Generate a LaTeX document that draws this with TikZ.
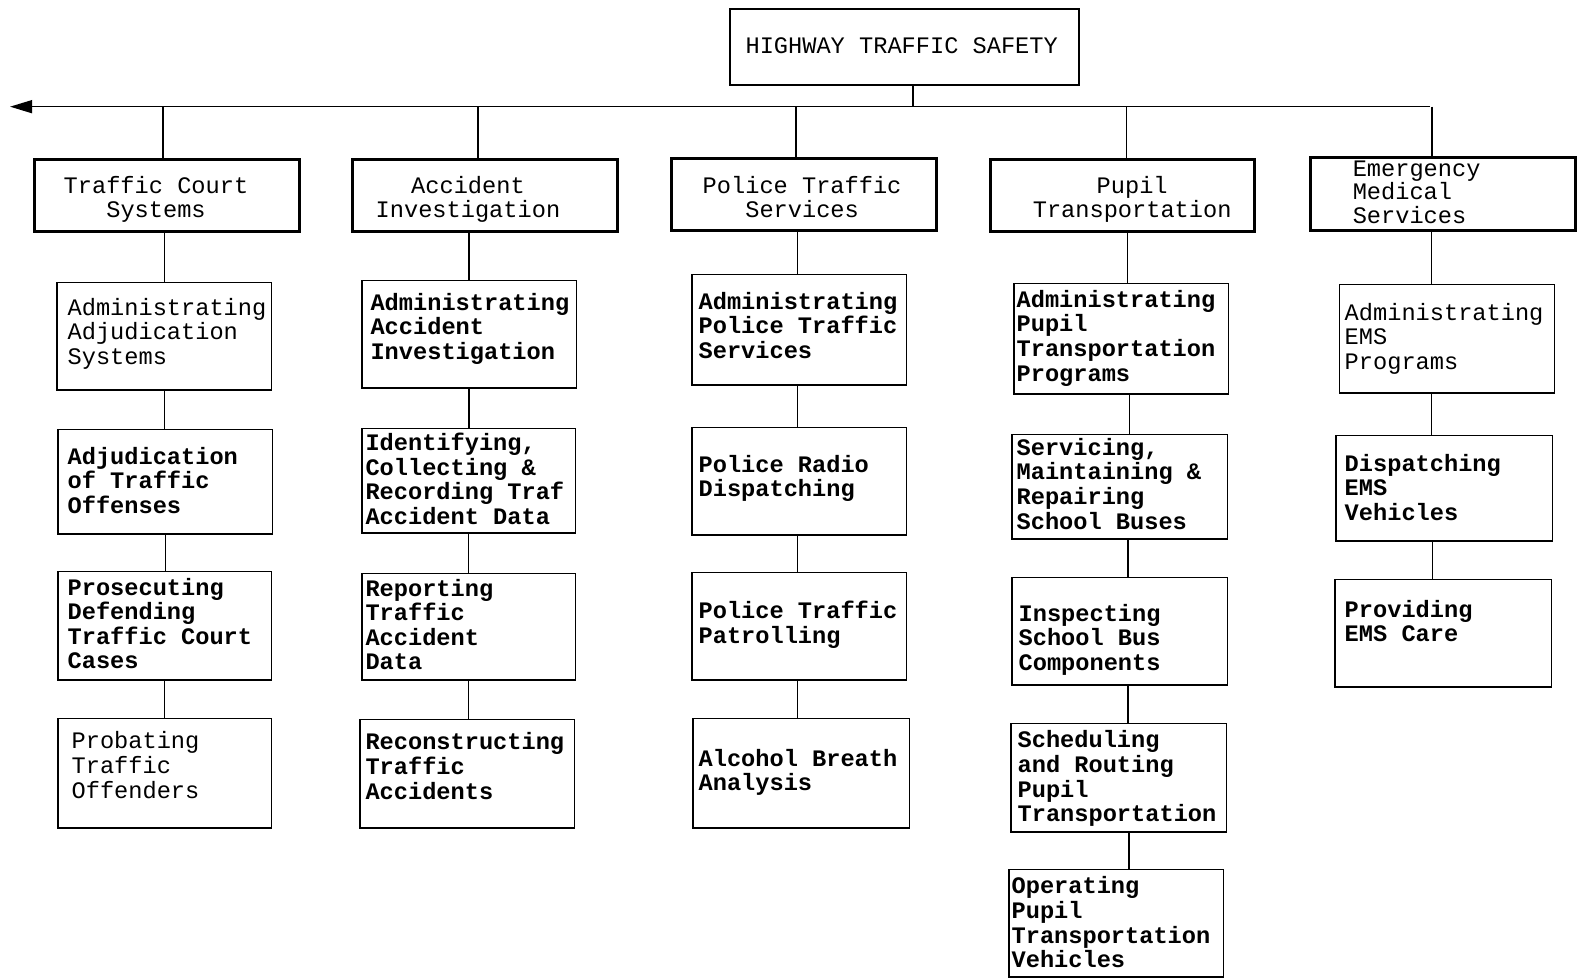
\documentclass[tikz,border=0pt]{standalone}
\usepackage{fontspec}
\setmonofont{Liberation Mono}
\usetikzlibrary{arrows.meta}
\tikzset{
  cellbox/.style={draw, line width=1.4pt, inner sep=0pt, anchor=north west},
  headbox/.style={draw, line width=2.8pt, inner sep=0pt, anchor=north west},
  boldtext/.style={font=\ttfamily\bfseries\fontsize{23.5}{24.5}\selectfont, align=left, inner sep=0pt, anchor=north west, execute at begin node=\strut},
  lighttext/.style={font=\ttfamily\fontsize{23.5}{24.5}\selectfont, align=left, inner sep=0pt, anchor=north west, execute at begin node=\strut},
  headtext/.style={font=\ttfamily\fontsize{23.5}{23.5}\selectfont, align=center, inner sep=0pt, anchor=north, execute at begin node=\strut},
  headltext/.style={font=\ttfamily\fontsize{23.5}{23}\selectfont, align=left, inner sep=0pt, anchor=north west, execute at begin node=\strut},
  link/.style={line width=1.4pt},
}
\newcommand\cell[9]{%
  \node[cellbox, minimum width={#4-#2}, minimum height={#5-#3}] (#1) at (#2,#3) {};
  \node[#8] (#1t) at (#6,#7-17) {#9};
}
\newcommand\head[9]{%
  \node[headbox, minimum width={#4-#2}, minimum height={#5-#3}] (#1) at (#2,#3) {};
  \node[#8] (#1t) at (#6,#7-17) {#9};
}
\begin{document}
\begin{tikzpicture}[x=1pt, y=-1pt]
\useasboundingbox (0,0) rectangle (1568,971);

% top
\node[draw, line width=2pt, inner sep=0pt, anchor=north west, minimum width=347, minimum height=75] (top) at (724,8) {};
\node[headtext] (topt) at (896,54-17) {HIGHWAY TRAFFIC SAFETY};

\coordinate (hub) at (907,106);
\coordinate (lend) at (10,106);
\coordinate (rend) at (1421,106);
\draw[link] (top.south -| hub) -- (hub);
\draw[link, -{Triangle[length=22pt, width=13pt]}] (rend) -- (lend);

% headers
\head{h1}{33}{157}{296}{229}{155}{192}{headtext}{Traffic Court\\Systems}
\head{h2}{349}{157}{612}{229}{465}{192}{headtext}{Accident\\Investigation}
\head{h3}{666}{156}{929}{228}{797}{192}{headtext}{Police Traffic\\Services}
\head{h4}{983}{157}{1245}{229}{1125}{192}{headtext}{Pupil\\Transportation}
\head{h5}{1301}{155}{1564}{228}{1344}{177}{headltext}{Emergency\\Medical\\Services}

% drops from main line
\draw[link] ([xshift=-4pt]h1.north |- hub) -- ([xshift=-4pt]h1.north);
\draw[link] ([xshift=-7pt]h2.north |- hub) -- ([xshift=-7pt]h2.north);
\draw[link] ([xshift=-8pt]h3.north |- hub) -- ([xshift=-8pt]h3.north);
\draw[link] ([xshift=4pt]h4.north |- hub) -- ([xshift=4pt]h4.north);
\draw[link] ([xshift=-11pt]h5.north |- hub) -- ([xshift=-11pt]h5.north);

% column 1
\cell{a1}{56}{280}{269}{387}{67}{313}{lighttext}{Administrating\\Adjudication\\Systems}
\cell{b1}{57}{426}{270}{530}{67}{461}{boldtext}{Adjudication\\of Traffic\\Offenses}
\cell{c1}{57}{567}{269}{675}{67}{591}{boldtext}{Prosecuting\\Defending\\Traffic Court\\Cases}
\cell{d1}{57}{713}{269}{822}{71}{744}{lighttext}{Probating\\Traffic\\Offenders}

% column 2
\cell{a2}{359}{278}{572}{385}{368}{308}{boldtext}{Administrating\\Accident\\Investigation}
\cell{b2}{359}{425}{571}{529}{363}{447}{boldtext}{Identifying,\\Collecting \&\\Recording Traf\\Accident Data}
\cell{c2}{359}{569}{571}{675}{363}{592}{boldtext}{Reporting\\Traffic\\Accident\\Data}
\cell{d2}{357}{714}{570}{822}{363}{745}{boldtext}{Reconstructing\\Traffic\\Accidents}

% column 3
\cell{a3}{687}{272}{900}{382}{694}{307}{boldtext}{Administrating\\Police Traffic\\Services}
\cell{b3}{687}{424}{900}{531}{694}{469}{boldtext}{Police Radio\\Dispatching}
\cell{c3}{687}{568}{900}{675}{694}{614}{boldtext}{Police Traffic\\Patrolling}
\cell{d3}{688}{713}{903}{822}{694}{761}{boldtext}{Alcohol Breath\\Analysis}

% column 4
\cell{a4}{1007}{281}{1220}{391}{1010}{305}{boldtext}{Administrating\\Pupil\\Transportation\\Programs}
\cell{b4}{1005}{431}{1219}{535}{1010}{452}{boldtext}{Servicing,\\Maintaining \&\\Repairing\\School Buses}
\cell{c4}{1005}{573}{1219}{680}{1012}{617}{boldtext}{Inspecting\\School Bus\\Components}
\cell{d4}{1004}{718}{1218}{826}{1011}{743}{boldtext}{Scheduling\\and Routing\\Pupil\\Transportation}
\cell{e4}{1002}{863}{1215}{970}{1005}{888}{boldtext}{Operating\\Pupil\\Transportation\\Vehicles}

% column 5
\cell{a5}{1330}{282}{1544}{390}{1336}{318}{lighttext}{Administrating\\EMS\\Programs}
\cell{b5}{1327}{432}{1542}{537}{1336}{468}{boldtext}{Dispatching\\EMS\\Vehicles}
\cell{c5}{1326}{575}{1541}{682}{1336}{613}{boldtext}{Providing\\EMS Care}

% vertical connectors
\draw[link] (a1.north) -- (a1.north |- h1.south);
\draw[link] (a1.south) -- (a1.south |- b1.north);
\draw[link] (b1.south) -- (b1.south |- c1.north);
\draw[link] (c1.south) -- (c1.south |- d1.north);

\draw[link] (a2.north) -- (a2.north |- h2.south);
\draw[link] (a2.south) -- (a2.south |- b2.north);
\draw[link] (b2.south) -- (b2.south |- c2.north);
\draw[link] (c2.south) -- (c2.south |- d2.north);

\draw[link] ([xshift=-2pt]a3.north) -- ([xshift=-2pt]a3.north |- h3.south);
\draw[link] ([xshift=-2pt]a3.south) -- ([xshift=-2pt]a3.south |- b3.north);
\draw[link] ([xshift=-2pt]b3.south) -- ([xshift=-2pt]b3.south |- c3.north);
\draw[link] ([xshift=-2pt]c3.south) -- ([xshift=-2pt]c3.south |- d3.north);

\draw[link] ([xshift=6pt]a4.north) -- ([xshift=6pt]a4.north |- h4.south);
\draw[link] ([xshift=8pt]a4.south) -- ([xshift=8pt]a4.south |- b4.north);
\draw[link] ([xshift=8pt]b4.south) -- ([xshift=8pt]b4.south |- c4.north);
\draw[link] ([xshift=8pt]c4.south) -- ([xshift=8pt]c4.south |- d4.north);
\draw[link] ([xshift=10pt]d4.south) -- ([xshift=10pt]d4.south |- e4.north);

\draw[link] ([xshift=-15pt]a5.north) -- ([xshift=-15pt]a5.north |- h5.south);
\draw[link] ([xshift=-15pt]a5.south) -- ([xshift=-15pt]a5.south |- b5.north);
\draw[link] ([xshift=-12pt]b5.south) -- ([xshift=-12pt]b5.south |- c5.north);
\end{tikzpicture}
\end{document}
